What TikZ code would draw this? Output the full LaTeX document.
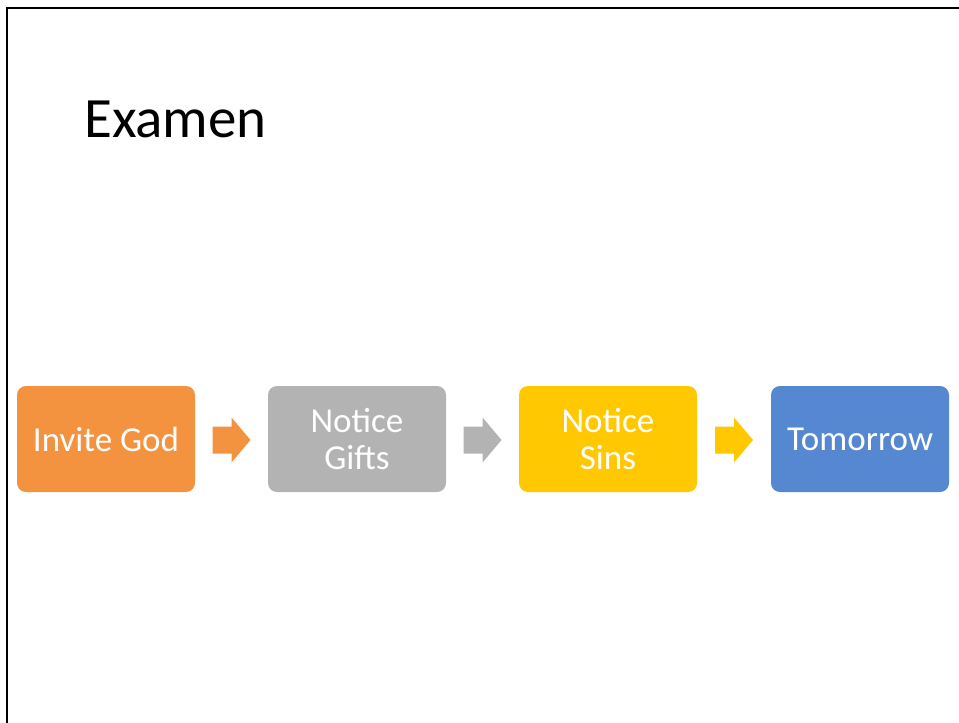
\documentclass[tikz,border=0pt]{standalone}
\usepackage{fontspec}
\setmainfont{Carlito}
\usetikzlibrary{calc}
\definecolor{corange}{HTML}{F4933F}
\definecolor{cgray}{HTML}{B3B3B3}
\definecolor{cyellow}{HTML}{FFC800}
\definecolor{cblue}{HTML}{5588D1}
\begin{document}
\begin{tikzpicture}[x=1pt,y=-1pt,
  stepbox/.style={rounded corners=9pt,minimum width=178pt,minimum height=106pt,
    inner sep=0pt,text=white,font=\fontsize{35}{37}\selectfont,align=center}]
\useasboundingbox (0,0) rectangle (959,723);
\fill[white] (0,0) rectangle (959,723);
\draw[line width=2.2pt] (7,723) -- (7,8) -- (959,8);
\node[anchor=base west,font=\fontsize{57}{60}\selectfont,inner sep=0pt] (title) at (84,137) {Examen};
\node[stepbox,fill=corange] (s1) at (106,439) {Invite God};
\node[stepbox,fill=cgray] (s2) at (357,439) {Notice\\Gifts};
\node[stepbox,fill=cyellow] (s3) at (608,439) {Notice\\Sins};
\node[stepbox,fill=cblue] (s4) at (860,439) {Tomorrow};
\foreach \a/\b/\c in {s1/s2/corange,s2/s3/cgray,s3/s4/cyellow}{
  \coordinate (m) at ($(\a.east)!0.5!(\b.west)+(0,1)$);
  \fill[\c] ($(m)+(-19,-13.5)$) -- ($(m)+(0,-13.5)$) -- ($(m)+(0,-22.5)$)
    -- ($(m)+(19,0)$) -- ($(m)+(0,22.5)$) -- ($(m)+(0,13.5)$) -- ($(m)+(-19,13.5)$) -- cycle;
}
\end{tikzpicture}
\end{document}
